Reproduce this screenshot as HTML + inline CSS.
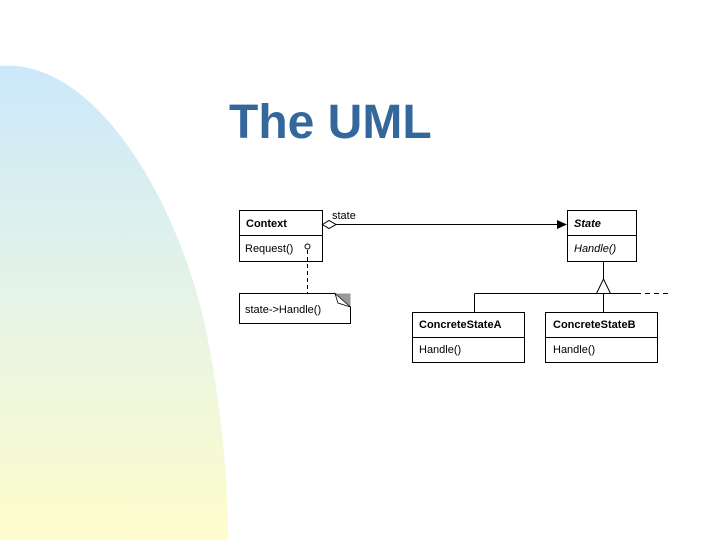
<!DOCTYPE html>
<html><head><style>
html,body{margin:0;padding:0;background:#fff;}
svg{display:block;}
</style></head><body>
<svg width="720" height="540" xmlns="http://www.w3.org/2000/svg" font-family="Liberation Sans, Arial, sans-serif">
<defs>
<linearGradient id="g" x1="0" y1="0" x2="0" y2="1">
<stop offset="0" stop-color="#cbe8fb"/>
<stop offset="0.5" stop-color="#e6f4e6"/>
<stop offset="1" stop-color="#fefccb"/>
</linearGradient>
</defs>
<path d="M0,66 C95,58 178,200 206,330 C222,410 228,480 228,540 L0,540 Z" fill="url(#g)"/>
<text x="229" y="138" font-size="48" font-weight="bold" fill="#34679c">The UML</text>

<g stroke="#000" stroke-width="1" fill="#fff">
<rect x="239.5" y="210.5" width="83" height="51"/>
<line x1="239.5" y1="235.5" x2="322.5" y2="235.5"/>
<rect x="567.5" y="210.5" width="69" height="51"/>
<line x1="567.5" y1="235.5" x2="636.5" y2="235.5"/>
<rect x="412.5" y="312.5" width="112" height="50"/>
<line x1="412.5" y1="337.5" x2="524.5" y2="337.5"/>
<rect x="545.5" y="312.5" width="112" height="50"/>
<line x1="545.5" y1="337.5" x2="657.5" y2="337.5"/>
<path d="M239.5,293.5 H335 L350.5,307 V323.5 H239.5 Z"/>
</g>
<path d="M335,293.5 L350.5,293.5 L350.5,307 Z" fill="#999"/>
<path d="M335,293.5 L350.5,307 L338,303 Z" fill="#fff" stroke="#000" stroke-width="0.8"/>

<line x1="336" y1="224.5" x2="560" y2="224.5" stroke="#000"/>
<path d="M322.5,224.5 L329,220.5 L336,224.5 L329,228.5 Z" fill="#fff" stroke="#000"/>
<path d="M557,220 L567,224.5 L557,229 Z" fill="#000"/>

<line x1="307.5" y1="250" x2="307.5" y2="293" stroke="#000" stroke-dasharray="4,3"/>
<circle cx="307.5" cy="246.5" r="2.5" fill="#fff" stroke="#000"/>

<line x1="603.5" y1="261.5" x2="603.5" y2="279" stroke="#000"/>
<path d="M603.5,279 L596.5,293.5 L610.5,293.5 Z" fill="#fff" stroke="#000"/>
<line x1="474.5" y1="293.5" x2="636" y2="293.5" stroke="#000"/>
<line x1="636" y1="293.5" x2="672" y2="293.5" stroke="#000" stroke-dasharray="5,4"/>
<line x1="474.5" y1="293.5" x2="474.5" y2="312.5" stroke="#000"/>
<line x1="603.5" y1="293.5" x2="603.5" y2="312.5" stroke="#000"/>

<g font-size="11" fill="#000">
<text x="246" y="227" font-weight="bold">Context</text>
<text x="245" y="252">Request()</text>
<text x="574" y="227" font-weight="bold" font-style="italic">State</text>
<text x="574" y="252" font-style="italic">Handle()</text>
<text x="332" y="219">state</text>
<text x="245" y="313">state-&gt;Handle()</text>
<text x="419" y="328" font-weight="bold">ConcreteStateA</text>
<text x="419" y="353">Handle()</text>
<text x="553" y="328" font-weight="bold">ConcreteStateB</text>
<text x="553" y="353">Handle()</text>
</g>
</svg>
</body></html>
